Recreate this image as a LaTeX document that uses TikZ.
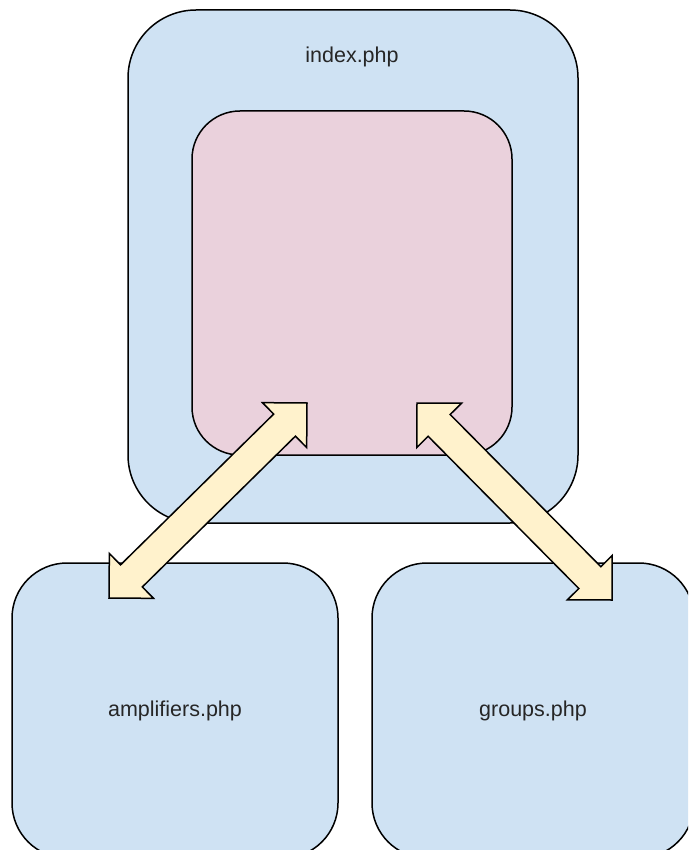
\documentclass[tikz,border=0pt]{standalone}
\usepackage{fontspec}
\setmainfont{Liberation Sans}
\usetikzlibrary{calc}

\definecolor{boxblue}{HTML}{CFE2F3}
\definecolor{boxpink}{HTML}{EAD1DC}
\definecolor{arrowfill}{HTML}{FFF2CC}

% fat two-headed block arrow between two named points
\newcommand{\ah}{31.5pt}% head length
\newcommand{\aw}{31.5pt}% head half-width
\newcommand{\as}{15.5pt}% shaft half-width
\newcommand{\fatdblarrow}[2]{%
  \draw[fatarrow] (#1)
    -- ($(#1)!\ah!(#2)!\aw!90:(#2)$)
    -- ($(#1)!\ah!(#2)!\as!90:(#2)$)
    -- ($(#2)!\ah!(#1)!\as!-90:(#1)$)
    -- ($(#2)!\ah!(#1)!\aw!-90:(#1)$)
    -- (#2)
    -- ($(#2)!\ah!(#1)!\aw!90:(#1)$)
    -- ($(#2)!\ah!(#1)!\as!90:(#1)$)
    -- ($(#1)!\ah!(#2)!\as!-90:(#2)$)
    -- ($(#1)!\ah!(#2)!\aw!-90:(#2)$)
    -- cycle;}

\tikzset{
  page/.style={draw=black, line width=1.5pt, fill=boxblue, rectangle,
    inner sep=0pt},
  core/.style={draw=black, line width=1.5pt, fill=boxpink, rectangle,
    inner sep=0pt},
  fatarrow/.style={draw=black, line width=1.5pt, fill=arrowfill,
    line join=miter},
  caption/.style={font=\fontsize{21.5pt}{26pt}\selectfont, text=black!85}
}

\begin{document}
\begin{tikzpicture}[x=1pt, y=-1pt]
  \useasboundingbox (0,0) rectangle (688,850);
  \clip (0,0) rectangle (688,850);

  % main page with its embedded content area
  \node[page, rounded corners=68pt, minimum width=450pt, minimum height=513pt]
    (index) at (353,266.5) {};
  \node[caption] (indexlbl) at (352,57) {index.php};
  \node[core, rounded corners=48pt, minimum width=320pt, minimum height=344pt]
    (content) at (352,283) {};

  % included pages
  \node[page, rounded corners=55pt, minimum width=326pt, minimum height=295pt,
    caption] (amp) at (175,710.5) {amplifiers.php};
  \node[page, rounded corners=55pt, minimum width=322pt, minimum height=295pt,
    caption] (grp) at (533,710.5) {groups.php};

  % arrow end points
  \coordinate (ampTip) at (109,598);
  \coordinate (contentL) at (307,403);
  \coordinate (contentR) at (417,403);
  \coordinate (grpTip) at (612,600);

  \fatdblarrow{ampTip}{contentL}
  \fatdblarrow{contentR}{grpTip}
\end{tikzpicture}
\end{document}
